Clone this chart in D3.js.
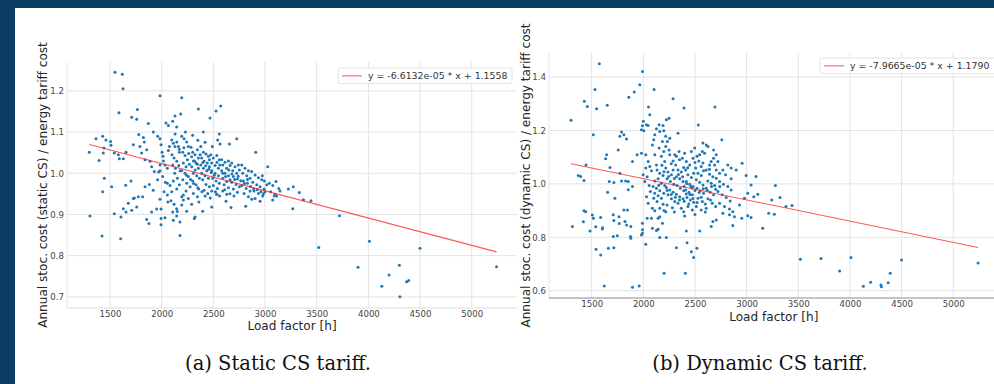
<!DOCTYPE html>
<html><head><meta charset="utf-8">
<script src="https://cdn.jsdelivr.net/npm/d3@7/dist/d3.min.js"></script>
<style>
html,body{margin:0;padding:0;background:#0b3d63;}
svg{display:block;}
</style></head>
<body>
<svg id="chart" width="994" height="384"></svg>
<script>
// ---------- DATA ----------
const xTicks = [1500, 2000, 2500, 3000, 3500, 4000, 4500, 5000];
const staticYTicks = [0.7, 0.8, 0.9, 1.0, 1.1, 1.2];
const dynamicYTicks = [0.6, 0.8, 1.0, 1.2, 1.4];

const staticFit = {slope: -6.6132e-05, intercept: 1.1558, label: "y = -6.6132e-05 * x + 1.1558"};
const dynamicFit = {slope: -7.9665e-05, intercept: 1.1790, label: "y = -7.9665e-05 * x + 1.1790"};

const captions = ["(a) Static CS tariff.", "(b) Dynamic CS tariff."];
const yLabels = ["Annual stoc. cost (static CS) / energy tariff cost", "Annual stoc. cost (dynamic CS) / energy tariff cost"];
const xLabel = "Load factor [h]";

// Static CS: [load factor, cost ratio]
const staticPoints = [
[1548,1.245],[1619,1.240],[1626,1.205],[1984,1.188],[2194,1.183],[1587,1.147],[1765,1.155],[1710,1.136],[1758,1.131],[1871,1.121],
[2355,1.156],[2526,1.151],[2571,1.163],[2468,1.134],[2042,1.122],[2065,1.116],[2107,1.126],[2145,1.112],[2129,1.139],[2184,1.144],
[2403,1.100],[1919,1.100],[1778,1.094],[1823,1.087],[1832,1.076],[1790,1.065],[1961,1.090],[1984,1.084],[1365,1.084],[1429,1.090],
[1461,1.081],[1506,1.077],[1510,1.068],[1300,1.051],[1394,1.031],[1442,1.061],[1435,1.049],[1542,1.049],[1581,1.045],[1629,1.035],
[1590,1.035],[1655,1.051],[1726,1.069],[1806,1.049],[1839,1.033],[1855,1.057],[1887,1.029],[1903,1.016],[1929,1.004],[1984,1.006],
[1445,0.988],[1429,0.955],[1516,0.967],[1652,0.971],[1703,0.981],[1306,0.896],[1423,0.848],[1603,0.841],[1542,0.902],[1606,0.894],
[1629,0.914],[1655,0.906],[1677,0.927],[1726,0.939],[1735,0.940],[1774,0.943],[1816,0.943],[1710,0.910],[1758,0.918],[1839,0.967],
[1881,0.973],[1919,0.959],[1961,0.984],[1855,0.888],[1877,0.878],[1903,0.906],[1952,0.913],[1994,0.913],[1994,0.890],[1994,0.875],
[2032,0.892],[2090,0.933],[2107,0.906],[2145,0.914],[2152,0.907],[2145,0.896],[2177,0.882],[2113,0.886],[2177,0.849],[2242,0.908],
[2323,0.894],[2316,0.890],[2397,0.908],[2484,0.918],[2532,0.949],[2623,0.932],[2671,0.917],[2813,0.920],[3268,0.914],[3371,0.936],
[3445,0.933],[3226,0.962],[3274,0.967],[3332,0.953],[3145,0.957],[3090,0.945],[3113,0.945],[3074,0.935],[3026,1.016],[2974,0.994],
[2994,0.981],[2910,1.051],[2726,1.084],[2655,1.071],[2558,1.095],[2542,1.081],[2565,1.071],
[3520,0.820],[3720,0.897],[3900,0.772],[4010,0.835],[4130,0.726],[4200,0.753],[4300,0.777],[4305,0.700],[4370,0.737],[4390,0.740],[4500,0.818],[5240,0.773],
[1994,1.069],[2004,1.051],[2013,1.041],[2017,1.030],[2033,1.020],[2055,1.012],[2065,1.055],[2075,1.065],[1984,1.020],[1971,1.003],
[2010,0.992],[2036,0.978],[2055,0.976],[2081,0.970],[2023,0.955],[1984,0.937],[2055,0.947],
[2097,1.081],[2113,1.073],[2129,1.065],[2146,1.076],[2162,1.065],[2171,1.051],[2100,1.045],[2120,1.037],[2146,1.029],[2107,1.020],
[2133,1.012],[2165,1.019],[2178,1.006],[2126,1.000],[2152,0.988],[2113,0.981],[2171,0.972],[2146,0.962],[2097,0.955],[2194,0.943],
[2194,1.090],[2217,1.084],[2242,1.076],[2258,1.065],[2204,1.051],[2226,1.043],[2249,1.033],[2210,1.025],[2236,1.016],[2268,1.022],
[2194,1.006],[2226,1.000],[2258,0.992],[2204,0.984],[2242,0.976],[2275,0.967],[2236,0.957],[2210,0.947],[2258,0.939],[2194,0.923],
[2284,1.063],[2300,1.051],[2323,1.045],[2346,1.057],[2355,1.037],[2307,1.030],[2333,1.025],[2291,1.016],[2323,1.008],[2355,1.012],
[2307,1.000],[2339,0.994],[2365,0.988],[2300,0.981],[2333,0.972],[2358,0.962],[2307,0.951],[2346,0.943],
[2378,1.065],[2404,1.051],[2429,1.047],[2452,1.041],[2387,1.037],[2410,1.029],[2442,1.025],[2462,1.033],[2378,1.020],[2404,1.012],
[2436,1.006],[2462,1.016],[2387,1.000],[2420,0.994],[2452,0.988],[2397,0.984],[2429,0.973],[2462,0.967],[2410,0.959],[2446,0.951],
[2475,1.045],[2500,1.037],[2533,1.043],[2558,1.033],[2484,1.025],[2517,1.019],[2549,1.012],[2484,1.006],[2517,1.000],[2549,0.994],
[2494,0.988],[2526,0.981],[2558,0.976],[2500,0.970],[2539,0.963],[2484,0.957],[2533,0.949],
[2581,1.033],[2613,1.027],[2646,1.030],[2591,1.020],[2629,1.012],[2662,1.019],[2581,1.006],[2613,1.000],[2646,0.994],[2591,0.988],
[2629,0.980],[2662,0.984],[2604,0.972],[2646,0.965],[2591,0.957],[2629,0.949],
[2678,1.025],[2710,1.016],[2742,1.020],[2688,1.006],[2726,1.000],[2752,1.008],[2694,0.992],[2733,0.986],[2678,0.978],[2720,0.973],
[2752,0.967],[2694,0.962],[2733,0.954],
[2775,1.020],[2807,1.012],[2839,1.006],[2784,1.000],[2823,0.994],[2855,0.988],[2791,0.981],[2830,0.976],[2775,0.970],[2817,0.963],
[2855,0.957],[2797,0.951],[2839,0.943],[2871,0.937],
[2871,1.004],[2904,0.996],[2936,0.989],[2968,0.984],[2881,0.978],[2920,0.972],[2952,0.967],[2991,0.962],[2894,0.957],[2936,0.951],
[2978,0.945],[3017,0.972],[2904,0.939],[2952,0.932],[3000,0.955],
[3042,0.976],[3075,0.970],[3107,0.980],[3055,0.955],[3097,0.949],[3133,0.963],
[2170,1.058],[2215,1.062],[2262,1.048],[2290,1.040],[2318,1.030],[2345,1.022],[2372,1.045],[2398,1.026],[2425,1.018],[2455,1.010],
[2480,1.002],[2508,0.995],[2535,1.027],[2562,1.020],[2590,1.000],[2618,0.992],[2650,1.008],[2680,0.998],[2705,0.985],[2740,0.993],
[2765,0.982],[2800,0.975],[2830,0.985],[2860,0.968],[2890,0.962],[2925,0.960],[2960,0.955],[2985,0.950],[2240,0.995],[2280,0.985],
[2310,0.975],[2350,0.965],[2390,0.955],[2420,0.945],[2470,0.940],[2520,0.955],[2560,0.945],[2610,0.960],[2660,0.950],[2700,0.945],
[2130,1.095],[2230,1.100],[2300,1.092],[2350,1.080],[2420,1.075],[2490,1.065],[2060,0.930],[2120,0.925],[2210,0.935],[2290,0.925],[2360,0.930]
];

// Dynamic CS: [load factor, cost ratio]
const dynamicPoints = [
[1574,1.450],[1992,1.421],[1300,1.238],[1532,1.353],[1548,1.281],[1429,1.309],[1458,1.290],[1651,1.294],[1860,1.324],[1912,1.344],
[1966,1.371],[2104,1.353],[2288,1.319],[2394,1.284],[2693,1.288],[2532,1.220],[2050,1.288],[2063,1.259],[2000,1.234],[2030,1.221],
[2046,1.219],[1992,1.218],[2005,1.199],[1982,1.203],[2127,1.206],[2111,1.184],[2153,1.221],[2191,1.219],[2223,1.240],[2249,1.246],
[2159,1.196],[2198,1.199],[2217,1.178],[2233,1.159],[2256,1.171],[2336,1.190],[1789,1.194],[1773,1.178],[1812,1.184],[1838,1.168],
[1516,1.184],[1757,1.127],[1645,1.109],[1635,1.094],[1677,1.061],[1895,1.084],[1940,1.109],[1982,1.115],[1445,1.071],[1371,1.031],
[1394,1.028],[1426,1.013],[1670,1.009],[1715,1.005],[1773,1.040],[1789,1.011],[1828,1.011],[1854,1.009],[1654,0.969],[1725,0.946],
[1854,0.978],[1895,0.990],[1426,0.899],[1442,0.896],[1506,0.883],[1420,0.858],[1314,0.840],[1516,0.871],[1484,0.824],[1539,0.839],
[1587,0.874],[1606,0.836],[1603,0.831],[1709,0.884],[1715,0.863],[1764,0.877],[1812,0.902],[1847,0.902],[1822,0.859],[1767,0.852],
[1838,0.846],[1879,0.840],[1876,0.803],[1879,0.796],[1709,0.803],[1748,0.806],[1542,0.755],[1587,0.734],[1661,0.759],[1715,0.761],
[1992,0.853],[1992,0.828],[1992,0.815],[1982,0.809],[2024,0.774],[2037,0.871],[2079,0.871],[2111,0.899],[2143,0.871],[2159,0.877],
[2088,0.834],[2143,0.830],[2127,0.825],[2159,0.799],[2223,0.799],[2185,0.853],[2217,0.896],[2320,0.761],[2416,0.824],[2423,0.780],
[2465,0.746],[2487,0.724],[2519,0.759],[2545,0.824],[2201,0.665],[2407,0.665],[1622,0.618],[1895,0.613],[1960,0.618],
[2690,1.071],[2738,1.040],[2770,1.052],[2818,1.071],[2850,1.059],[2899,1.052],[2956,1.077],[2995,1.031],[3091,1.028],[3043,0.996],
[3011,0.965],[3108,0.961],[3069,0.952],[2979,0.946],[2931,0.921],[2866,0.896],[2834,0.884],[2882,0.877],[2866,0.844],[2953,0.871],
[3011,0.881],[3043,0.874],[3156,0.834],[3214,0.890],[3268,0.886],[3243,0.940],[3278,0.994],[3323,0.949],[3381,0.915],[3439,0.919],
[2673,0.859],[2657,0.840],[2706,0.865],[2770,0.890],
[2577,1.153],[2609,1.146],[2625,1.140],[2571,1.121],[2545,1.109],[2593,1.115],[2680,1.127],[2706,1.109],[2760,1.165],[2722,1.084],[2657,1.084],
[3520,0.718],[3720,0.721],[3900,0.674],[4010,0.724],[4130,0.617],[4200,0.632],[4300,0.621],[4305,0.615],[4370,0.630],[4390,0.665],[4500,0.715],[5240,0.704],
[2024,1.109],[2047,1.084],[2063,1.065],[2079,1.049],[2037,1.027],[2014,1.009],[2056,0.994],[2095,0.990],[2069,0.971],[2031,0.952],
[2101,0.946],[2047,0.927],[2088,0.909],[2111,1.109],[2101,1.165],[2088,1.146],[2127,1.071],[2024,1.059],[1998,1.034],[2111,1.011],
[2133,1.052],[2159,1.040],[2191,1.031],[2143,1.019],[2175,1.002],[2207,0.994],[2127,0.984],[2159,0.974],[2198,0.965],[2143,0.956],
[2175,0.946],[2133,0.934],[2191,0.924],[2159,0.909],[2207,1.084],[2175,1.103],[2153,1.134],[2198,1.121],[2217,1.140],[2185,1.159],
[2217,1.059],[2239,1.044],[2272,1.034],[2288,1.052],[2230,1.019],[2262,1.009],[2294,0.999],[2223,0.986],[2256,0.977],[2288,0.969],
[2239,0.959],[2272,0.944],[2304,0.934],[2230,0.921],[2281,0.911],[2256,1.109],[2288,1.086],[2249,1.127],[2304,1.109],
[2313,1.071],[2336,1.052],[2368,1.044],[2391,1.061],[2320,1.027],[2352,1.019],[2384,1.009],[2326,0.994],[2358,0.984],[2391,0.974],
[2320,0.961],[2352,0.952],[2384,0.944],[2336,0.927],[2368,0.909],[2391,0.896],[2346,1.121],[2378,1.096],[2320,1.103],[2400,1.115],
[2410,1.052],[2432,1.034],[2465,1.024],[2487,1.040],[2416,1.009],[2449,0.999],[2481,0.990],[2410,0.977],[2442,0.969],[2474,0.959],
[2423,0.949],[2455,0.940],[2487,0.931],[2432,0.915],[2474,0.902],[2416,1.084],[2449,1.071],[2481,1.096],[2465,1.121],[2497,1.134],
[2506,1.059],[2529,1.040],[2561,1.031],[2583,1.049],[2513,1.015],[2545,1.006],[2577,0.996],[2519,0.984],[2551,0.974],[2583,0.965],
[2529,0.946],[2571,0.934],[2513,0.915],[2561,0.902],[2538,1.086],[2577,1.078],[2519,1.103],
[2609,1.052],[2641,1.036],[2673,1.027],[2625,1.011],[2657,1.002],[2690,0.994],[2609,0.984],[2648,0.969],[2680,0.959],[2625,0.944],
[2667,0.927],[2609,0.909],[2641,1.071],[2680,1.096],
[2706,1.021],[2738,1.009],[2776,0.999],[2818,0.990],[2850,0.977],[2722,0.971],[2763,0.959],[2802,0.949],[2841,0.936],[2738,0.927],
[2786,0.915],[2834,0.906],[2706,1.052],[2796,1.034],[2850,1.019],
[2200,1.045],[2245,1.028],[2300,1.020],[2340,1.035],[2380,1.027],[2420,1.000],[2460,0.990],[2500,0.975],[2540,0.968],[2580,0.982],
[2620,0.975],[2660,0.990],[2700,0.980],[2740,0.990],[2230,0.975],[2270,0.960],[2310,0.950],[2350,0.940],[2395,0.935],[2440,0.925],
[2480,0.945],[2520,0.930],[2560,0.950],[2600,0.925],[2650,0.940],[2700,0.915],[2180,1.070],[2270,1.075],[2350,1.090],[2430,1.060],
[2500,1.080],[2560,1.065],[2640,1.055],[2150,0.995],[2110,0.965],[2200,0.900],[2300,0.895],[2400,0.880],[2500,0.885],[2600,0.895],
[2450,0.960],[2470,0.985],[2415,0.962],[2395,0.990]
];

// ---------- DRAW ----------
const svg = d3.select("#chart");
svg.append("rect").attr("x", 15).attr("y", 8).attr("width", 979).attr("height", 376).attr("fill", "#ffffff");

const panels = [
  {points: staticPoints, fit: staticFit, yTicks: staticYTicks, yDomain: [0.673, 1.270], xDomain: [1084, 5438],
   left: 67, right: 517, top: 62, bottom: 308, ylabX: 43, xlabY: 329.5, caption: captions[0], capX: 278, ylab: yLabels[0],
   legend: {x: 338, y: 68, w: 174}, spine: "#dcdcdc"},
  {points: dynamicPoints, fit: dynamicFit, yTicks: dynamicYTicks, yDomain: [0.5727, 1.490], xDomain: [1087, 5438],
   left: 549, right: 998.5, top: 53, bottom: 298, ylabX: 526, xlabY: 320.5, caption: captions[1], capX: 760, ylab: yLabels[1],
   legend: {x: 820, y: 58, w: 176}, spine: "#8a8a8a"}
];

const font = "'DejaVu Sans', sans-serif";

panels.forEach(p => {
  const x = d3.scaleLinear().domain(p.xDomain).range([p.left, p.right]);
  const y = d3.scaleLinear().domain(p.yDomain).range([p.bottom, p.top]);
  const g = svg.append("g");

  // grid
  g.append("g").selectAll("line").data(xTicks).join("line")
    .attr("x1", d => x(d)).attr("x2", d => x(d)).attr("y1", p.top).attr("y2", p.bottom)
    .attr("stroke", "#e3e3e3").attr("stroke-width", 1);
  g.append("g").selectAll("line").data(p.yTicks).join("line")
    .attr("x1", p.left).attr("x2", p.right).attr("y1", d => y(d)).attr("y2", d => y(d))
    .attr("stroke", "#e3e3e3").attr("stroke-width", 1);

  // frame
  g.append("line").attr("x1", p.left).attr("x2", p.left).attr("y1", p.top).attr("y2", p.bottom)
    .attr("stroke", "#e6e6e6");
  g.append("line").attr("x1", p.left).attr("x2", p.right).attr("y1", p.bottom).attr("y2", p.bottom)
    .attr("stroke", p.spine).attr("stroke-width", 1);

  // axes (labels only)
  const xAxis = d3.axisBottom(x).tickValues(xTicks).tickSize(0).tickPadding(3).tickFormat(d3.format("d"));
  const xa = g.append("g").attr("transform", `translate(0,${p.bottom})`).call(xAxis);
  xa.select(".domain").remove();
  xa.selectAll("text").attr("font-family", font).attr("font-size", 8.6).attr("fill", "#444");

  const yAxis = d3.axisLeft(y).tickValues(p.yTicks).tickSize(0).tickPadding(3).tickFormat(d3.format(".1f"));
  const ya = g.append("g").attr("transform", `translate(${p.left},0)`).call(yAxis);
  ya.select(".domain").remove();
  ya.selectAll("text").attr("font-family", font).attr("font-size", 8.6).attr("fill", "#444");

  // points
  g.append("g").selectAll("circle").data(p.points).join("circle")
    .attr("cx", d => x(d[0])).attr("cy", d => y(d[1])).attr("r", 1.5)
    .attr("fill", "#1f77b4");

  // regression line
  const ext = d3.extent(p.points, d => d[0]);
  g.append("line")
    .attr("x1", x(ext[0])).attr("y1", y(p.fit.slope * ext[0] + p.fit.intercept))
    .attr("x2", x(ext[1])).attr("y2", y(p.fit.slope * ext[1] + p.fit.intercept))
    .attr("stroke", "#ff2020").attr("stroke-opacity", 0.75).attr("stroke-width", 1.1);

  // legend
  const L = p.legend;
  g.append("rect").attr("x", L.x).attr("y", L.y).attr("width", L.w).attr("height", 15.5)
    .attr("rx", 2).attr("fill", "#fff").attr("fill-opacity", 0.9).attr("stroke", "#e2e2e2");
  g.append("line").attr("x1", L.x + 4).attr("x2", L.x + 24).attr("y1", L.y + 7.8).attr("y2", L.y + 7.8)
    .attr("stroke", "#ff6060").attr("stroke-opacity", 0.75).attr("stroke-width", 1.5);
  g.append("text").attr("x", L.x + 30).attr("y", L.y + 11.2).text(p.fit.label)
    .attr("font-family", font).attr("font-size", 9.4).attr("fill", "#333");

  // axis labels
  g.append("text").attr("x", (p.left + p.right) / 2).attr("y", p.xlabY).attr("text-anchor", "middle")
    .attr("font-family", font).attr("font-size", 12.1).attr("fill", "#262626").text(xLabel);
  g.append("text").attr("transform", `translate(${p.ylabX},${(p.top + p.bottom) / 2}) rotate(-90)`)
    .attr("text-anchor", "middle").attr("dy", "0.35em")
    .attr("font-family", font).attr("font-size", 12.1).attr("fill", "#262626").text(p.ylab);

  // caption
  svg.append("text").attr("x", p.capX).attr("y", 370).attr("text-anchor", "middle")
    .attr("font-family", "'DejaVu Serif', serif").attr("font-size", 19.5).attr("fill", "#111").text(p.caption);
});
</script>
</body></html>
